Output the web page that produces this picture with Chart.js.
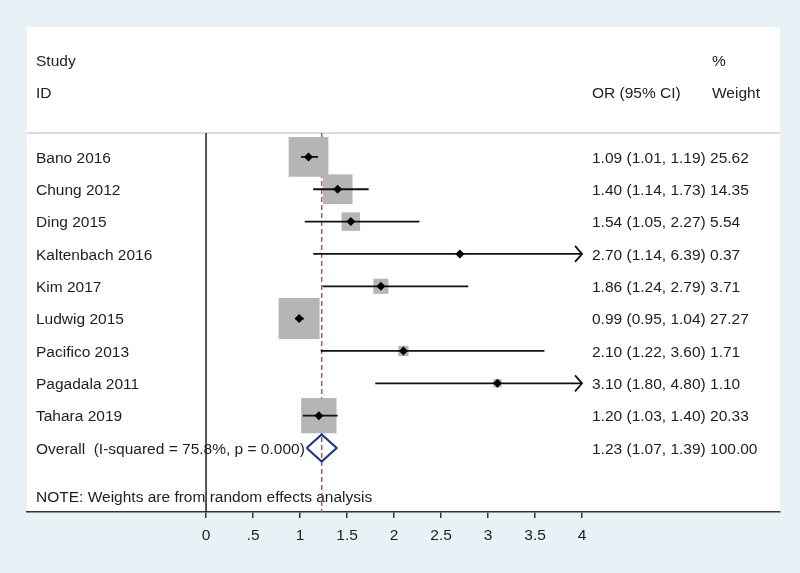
<!DOCTYPE html>
<html>
<head>
<meta charset="utf-8">
<script src="https://cdn.jsdelivr.net/npm/chart.js@4.4.0/dist/chart.umd.min.js"></script>
<style>
  body { margin: 0; background: #e8f1f5; }
  canvas { display: block; }
</style>
</head>
<body>
<canvas id="forest" width="800" height="573"></canvas>
<script>
// study data
const studies = ["Bano 2016", "Chung 2012", "Ding 2015", "Kaltenbach 2016", "Kim 2017",
                 "Ludwig 2015", "Pacifico 2013", "Pagadala 2011", "Tahara 2019"];
const orValues = [1.09, 1.40, 1.54, 2.70, 1.86, 0.99, 2.10, 3.10, 1.20];
const ciLow    = [1.01, 1.14, 1.05, 1.14, 1.24, 0.95, 1.22, 1.80, 1.03];
const ciHigh   = [1.19, 1.73, 2.27, 6.39, 2.79, 1.04, 3.60, 4.80, 1.40];
const weights  = [25.62, 14.35, 5.54, 0.37, 3.71, 27.27, 1.71, 1.10, 20.33];

// overall (random effects) estimate: OR, low, high
const overall = [1.23, 1.07, 1.39];
const overallWeight = "100.00";
const overallLabel = "Overall  (I-squared = 75.8%, p = 0.000)";
const noteText = "NOTE: Weights are from random effects analysis";

const xTicks = [0, 0.5, 1, 1.5, 2, 2.5, 3, 3.5, 4];
const xLimit = 4;

const fmt = v => v.toFixed(2);
const FONT = '15.5px "Liberation Sans", Arial, sans-serif';
const TEXT = '#1e1e1e';

// y range in row units (rows 1..9 studies, 10 overall, 11.5 note)
const yMin = 0.26, yMax = 11.98;

// CI lines, one dataset each
let ciSets = studies.map((s, i) => ({
    type: 'line',
    data: [{ x: ciLow[i], y: i + 1 }, { x: Math.min(ciHigh[i], xLimit), y: i + 1 }],
    borderColor: '#111',
    borderWidth: 1.8,
    pointRadius: 0,
    order: 2
}));

const datasets = [
    // dashed line through overall estimate
    {
        type: 'line',
        data: [{ x: overall[0], y: yMin }, { x: overall[0], y: yMax }],
        borderColor: '#cc4b4b',
        borderWidth: 1.5,
        borderDash: [5, 3],
        pointRadius: 0,
        order: 6
    },
    // line of no effect drawn at 0
    {
        type: 'line',
        data: [{ x: 0, y: yMin }, { x: 0, y: yMax }],
        borderColor: '#222',
        borderWidth: 1.5,
        pointRadius: 0,
        order: 5
    },
    // weight boxes (area ~ weight)
    {
        type: 'scatter',
        data: orValues.map((v, i) => ({ x: v, y: i + 1 })),
        pointStyle: 'rect',
        pointRadius: weights.map(w => 7.85 * Math.sqrt(w) / Math.SQRT2),
        backgroundColor: '#b5b5b5',
        borderWidth: 0,
        order: 4
    },
    ...ciSets,
    // point estimates
    {
        type: 'scatter',
        data: orValues.map((v, i) => ({ x: v, y: i + 1 })),
        pointStyle: 'rectRot',
        pointRadius: 4.5,
        backgroundColor: '#000',
        borderWidth: 0,
        order: 1
    },
    // overall diamond
    {
        type: 'line',
        data: [
            { x: overall[1], y: 10 },
            { x: overall[0], y: 10 - 0.42 },
            { x: overall[2], y: 10 },
            { x: overall[0], y: 10 + 0.42 },
            { x: overall[1], y: 10 }
        ],
        borderColor: '#1f2f8c',
        borderWidth: 2,
        pointRadius: 0,
        tension: 0,
        order: 1
    }
];

// panel, header, labels and arrows
const forestText = {
    id: 'forestText',
    beforeDraw(chart) {
        const { ctx, chartArea: a } = chart;
        ctx.save();
        ctx.fillStyle = '#e8f1f5';
        ctx.fillRect(0, 0, chart.width, chart.height);
        ctx.fillStyle = '#ffffff';
        ctx.fillRect(a.left, 27, a.right - a.left, a.bottom - 27);
        ctx.strokeStyle = '#c8d1d9';
        ctx.lineWidth = 1.5;
        ctx.beginPath();
        ctx.moveTo(a.left, a.top);
        ctx.lineTo(a.right, a.top);
        ctx.stroke();
        ctx.restore();
    },
    beforeDatasetsDraw(chart) {
        const { ctx, chartArea: a, scales: { y } } = chart;
        const leftX = a.left + 9;
        const orX = a.right - 188;
        const wX = a.right - 68;
        const rowY = v => y.getPixelForValue(v) + 1.5;
        ctx.save();
        ctx.font = FONT;
        ctx.fillStyle = TEXT;
        ctx.textBaseline = 'middle';
        ctx.fillText('Study', leftX, rowY(-2));
        ctx.fillText('ID', leftX, rowY(-1));
        ctx.fillText('%', wX, rowY(-2));
        ctx.fillText('OR (95% CI)', orX, rowY(-1));
        ctx.fillText('Weight', wX, rowY(-1));
        studies.forEach((s, i) => {
            const py = rowY(i + 1);
            ctx.fillText(s, leftX, py);
            ctx.fillText(fmt(orValues[i]) + ' (' + fmt(ciLow[i]) + ', ' + fmt(ciHigh[i]) + ') ' + fmt(weights[i]), orX, py);
        });
        const oy = rowY(10);
        ctx.fillText(overallLabel, leftX, oy);
        ctx.fillText(fmt(overall[0]) + ' (' + fmt(overall[1]) + ', ' + fmt(overall[2]) + ') ' + overallWeight, orX, oy);
        ctx.fillText(noteText, leftX, rowY(11.5));
        ctx.restore();
    },
    afterDatasetsDraw(chart) {
        const { ctx, scales: { x, y } } = chart;
        ctx.save();
        ctx.strokeStyle = '#111';
        ctx.lineWidth = 1.8;
        studies.forEach((s, i) => {
            if (ciHigh[i] <= xLimit) return;
            const px = x.getPixelForValue(xLimit);
            const py = y.getPixelForValue(i + 1);
            ctx.beginPath();
            ctx.moveTo(px - 7, py - 8);
            ctx.lineTo(px, py);
            ctx.lineTo(px - 7, py + 8);
            ctx.stroke();
        });
        ctx.restore();
    }
};

new Chart(document.getElementById('forest'), {
    type: 'scatter',
    data: { datasets: datasets },
    options: {
        responsive: false,
        animation: false,
        layout: { autoPadding: false, padding: { left: 27, right: 20, top: 133, bottom: 28 } },
        plugins: { legend: { display: false }, tooltip: { enabled: false } },
        scales: {
            x: {
                type: 'linear',
                min: -1.905,
                max: 6.106,
                afterBuildTicks: axis => { axis.ticks = xTicks.map(v => ({ value: v })); },
                afterFit: axis => {
                    // keep the axis flush with the panel edges
                    axis.paddingLeft = 0;
                    axis.paddingRight = 0;
                    axis.height = 33;
                },
                ticks: {
                    padding: 8,
                    color: TEXT,
                    font: { family: '"Liberation Sans", Arial, sans-serif', size: 15.5 },
                    callback: v => (v === 0 ? '0' : String(v).replace(/^0\./, '.'))
                },
                grid: { drawOnChartArea: false, drawTicks: true, tickLength: 6, color: '#333', lineWidth: 1.5 },
                border: { color: '#333', width: 1.5 }
            },
            y: {
                type: 'linear',
                reverse: true,
                min: yMin,
                max: yMax,
                display: false
            }
        }
    },
    plugins: [forestText]
});
</script>
</body>
</html>
